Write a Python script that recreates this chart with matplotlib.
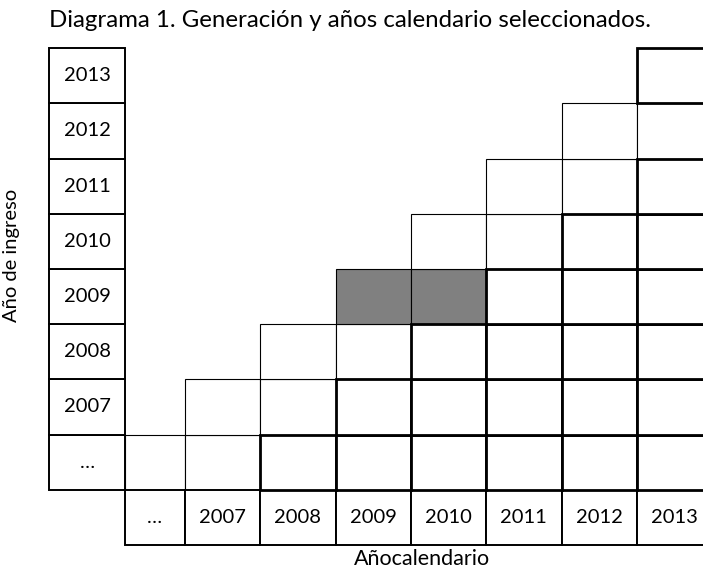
import matplotlib.pyplot as plt
from matplotlib.patches import Rectangle

plt.rcParams['font.family'] = ['Lato', 'DejaVu Sans']

# entry year rows (bottom to top) and calendar year columns (left to right)
row_labels = ["…", "2007", "2008", "2009", "2010", "2011", "2012", "2013"]
col_labels = ["…", "2007", "2008", "2009", "2010", "2011", "2012", "2013"]

# selected cohort and calendar years (shaded)
highlight_row = "2009"
highlight_cols = ["2009", "2010"]

title = "Diagrama 1. Generación y años calendario seleccionados."
xlabel = "Añocalendario"
ylabel = "Año de ingreso"

# layout (column units ~75 px, row units ~55 px)
dots_w = 0.8
label_left = -1.8
thin_lw = 0.8
thick_lw = 2.0
label_lw = 1.4
fs = 14.5


def col_span(c):
    # x range of calendar column c
    if c == 0:
        return -dots_w, dots_w
    return c - 1, 1.0


fig = plt.figure(figsize=(7.03, 5.71), dpi=100)
ax = fig.add_axes([0, 0, 1, 1])
ax.set_xlim(-185 / 75.3, (703 - 185) / 75.3)
ax.set_ylim(-1 - 26 / 55.2, 8 + 48.2 / 55.2)
ax.axis('off')

# staircase cells: row r holds columns c >= r
cells = []
for r, rl in enumerate(row_labels):
    for c, cl in enumerate(col_labels):
        if c < r:
            continue
        thick = (c - r >= 2) or r == len(row_labels) - 1
        grey = rl == highlight_row and cl in highlight_cols
        cells.append((r, c, thick, grey))

# thin first, thick on top
for r, c, thick, grey in sorted(cells, key=lambda t: t[2]):
    x0, w = col_span(c)
    ax.add_patch(Rectangle((x0, r), w, 1,
                           facecolor='#808080' if grey else 'white',
                           edgecolor='black',
                           linewidth=thick_lw if thick else thin_lw,
                           zorder=3 if thick else 2))

# row label column
for r, rl in enumerate(row_labels):
    ax.add_patch(Rectangle((label_left, r), 1, 1, facecolor='white',
                           edgecolor='black', linewidth=label_lw, zorder=2))
    ax.text(label_left + 0.5, r + 0.5, rl, ha='center', va='center',
            fontsize=fs, zorder=4)

# column label row
for c, cl in enumerate(col_labels):
    x0, w = col_span(c)
    ax.add_patch(Rectangle((x0, -1), w, 1, facecolor='white',
                           edgecolor='black', linewidth=label_lw, zorder=2))
    ax.text(x0 + w / 2, -0.5, cl, ha='center', va='center',
            fontsize=fs, zorder=4)

ax.text(label_left, 8.5, title, ha='left', va='center', fontsize=17.3)
ax.text(3.15, -1.25, xlabel, ha='center', va='center', fontsize=15.5)
ax.text(-2.3, 4.25, ylabel, ha='center', va='center', fontsize=14.5,
        rotation=90)

fig.savefig("out.png", dpi=100)
